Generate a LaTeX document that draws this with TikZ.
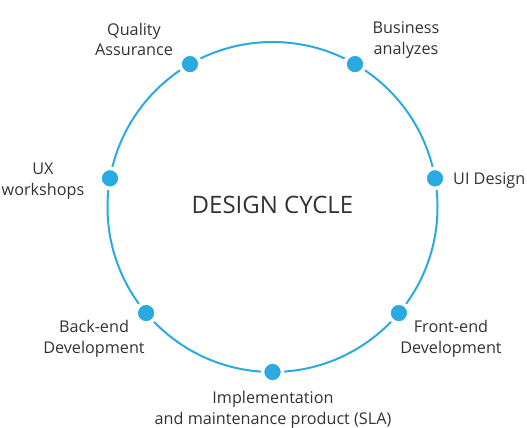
\documentclass[tikz,border=0pt]{standalone}
\usepackage{fontspec}
\setmainfont{Open Sans}
\usepackage{tikz}
\usetikzlibrary{positioning,calc}

\definecolor{cycleblue}{HTML}{29ABE2}
\definecolor{labelgray}{HTML}{333333}

\tikzset{
    stagedot/.style={circle, fill=cycleblue, draw=white, line width=3.5pt, inner sep=0pt, minimum size=20pt},
    stagelabel/.style={align=center, text=labelgray, inner sep=0pt, font=\fontsize{16.2}{20.8}\selectfont}
}

\begin{document}
\begin{tikzpicture}[x=1pt, y=1pt]
    \useasboundingbox (0,0) rectangle (527,428);
    \coordinate (center) at (272.5,221);
    \draw[cycleblue, line width=2pt] (center) circle (165);
    % stages on the ring
    \node[stagedot] (qa)   at ($(center)+(120:165)$) {};
    \node[stagedot] (ba)   at ($(center)+(60:165)$) {};
    \node[stagedot] (ui)   at ($(center)+(10:165)$) {};
    \node[stagedot] (fe)   at ($(center)+(-40:165)$) {};
    \node[stagedot] (impl) at ($(center)+(-90:165)$) {};
    \node[stagedot] (be)   at ($(center)+(-140:165)$) {};
    \node[stagedot] (ux)   at ($(center)+(170:165)$) {};
    % labels
    \node[stagelabel] (qalabel)   at (134,388.5) {Quality\\Assurance};
    \node[stagelabel] (balabel)   at (406,388) {Business\\analyzes};
    \node[stagelabel, anchor=west] (uilabel) at (453,247) {UI Design};
    \node[stagelabel] (felabel)   at (451,89) {Front-end\\Development};
    \node[stagelabel] (impllabel) at (273,18) {Implementation\\and maintenance product (SLA)};
    \node[stagelabel] (belabel)   at (94,89) {Back-end\\Development};
    \node[stagelabel] (uxlabel)   at (43,247) {UX\\workshops};
    \node[text=labelgray, font=\fontsize{24}{28}\selectfont] (title) at (center) [yshift=2] {DESIGN CYCLE};
\end{tikzpicture}
\end{document}
